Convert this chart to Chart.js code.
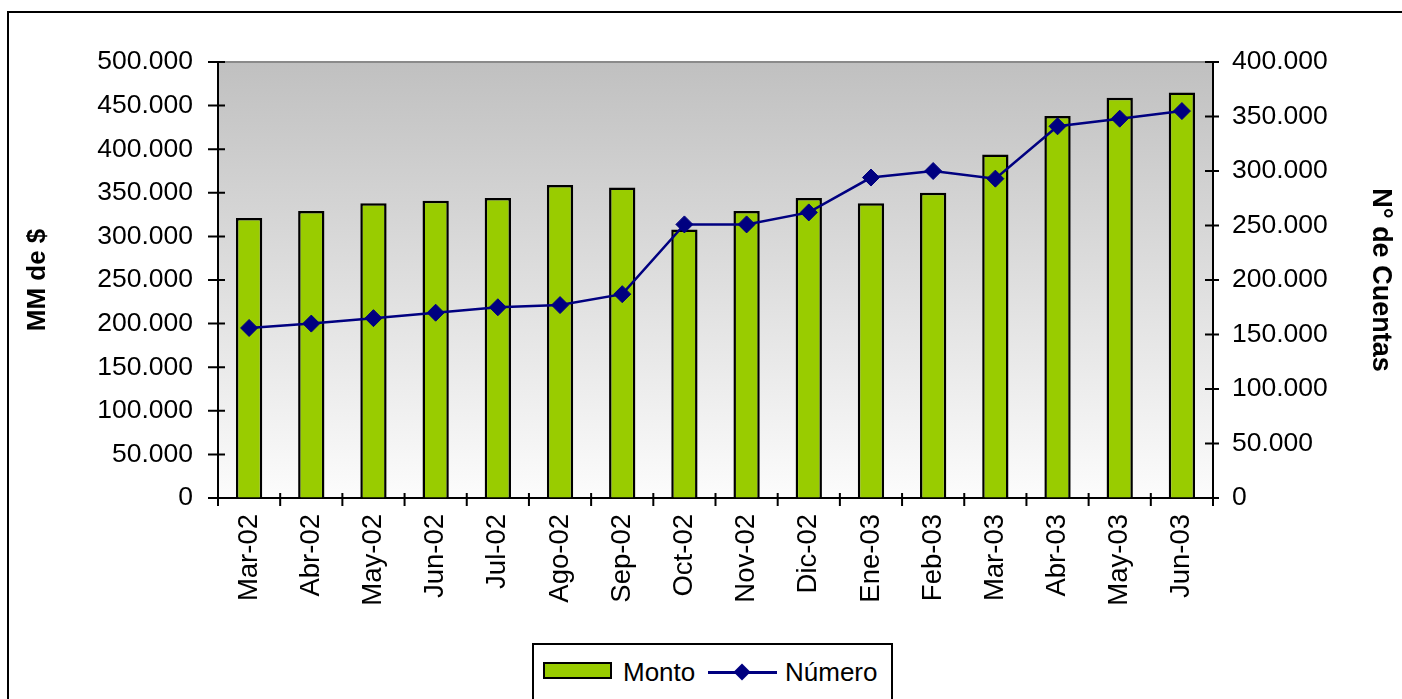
<!DOCTYPE html>
<html><head><meta charset="utf-8">
<script src="https://cdn.jsdelivr.net/npm/chart.js@4"></script>
<style>
html,body{margin:0;padding:0;width:1402px;height:699px;overflow:hidden;background:#fff;font-family:"Liberation Sans",Arial,sans-serif;}
#frame{position:absolute;left:7px;top:11px;width:1500px;height:800px;border:2px solid #000;box-sizing:border-box;}
#c{position:absolute;left:0;top:0;}
#legend{position:absolute;left:532px;top:643px;width:361px;height:100px;border:2px solid #000;box-sizing:border-box;background:#fff;}
#legend .sw{position:absolute;left:9px;top:17px;width:69px;height:17px;background:#99CC00;border:2px solid #000;box-sizing:border-box;}
#legend .txt{position:absolute;top:12px;font-size:26px;line-height:30px;color:#000;white-space:nowrap;}
#legend .ln{position:absolute;left:174px;top:26px;width:69px;height:2.5px;background:#000080;}
#legend .dm{position:absolute;left:202px;top:21px;width:12px;height:12px;background:#000080;transform:rotate(45deg);}
</style>
</head><body>
<div id="frame"></div>
<canvas id="c" width="1402" height="699"></canvas>
<div id="legend">
  <div class="sw"></div><div class="txt" id="l1" style="left:89px"></div>
  <div class="ln"></div><div class="dm"></div><div class="txt" id="l2" style="left:251px"></div>
</div>
<script>
const categories = ['Mar-02','Abr-02','May-02','Jun-02','Jul-02','Ago-02','Sep-02','Oct-02','Nov-02','Dic-02','Ene-03','Feb-03','Mar-03','Abr-03','May-03','Jun-03'];
const monto  = [321000, 329000, 338000, 341000, 344000, 359000, 356000, 308000, 329000, 344000, 338000, 350000, 394000, 438000, 459000, 465000];
const numero = [156000, 160000, 165000, 170000, 175000, 177000, 187000, 251000, 251000, 262000, 294000, 300000, 293000, 341000, 348000, 355000];
const seriesNames = ['Monto', 'Número'];
const axisTitles = ['MM de $', 'N° de Cuentas'];

document.getElementById('l1').textContent = seriesNames[0];
document.getElementById('l2').textContent = seriesNames[1];

const FONT = '"Liberation Sans", Arial, sans-serif';
const fmt = v => String(v).replace(/\B(?=(\d{3})+(?!\d))/g, '.');

const bgPlugin = {
  id: 'bg',
  beforeDraw(chart) {
    const {ctx, chartArea: a} = chart;
    const g = ctx.createLinearGradient(0, a.top, 0, a.bottom);
    g.addColorStop(0, '#C0C0C0');
    g.addColorStop(1, '#FCFCFC');
    ctx.save();
    ctx.fillStyle = g;
    ctx.fillRect(a.left, a.top, a.right - a.left, a.bottom - a.top);
    ctx.strokeStyle = '#8a8a8a';
    ctx.lineWidth = 2;
    ctx.beginPath();
    ctx.moveTo(a.left, a.top);
    ctx.lineTo(a.right, a.top);
    ctx.stroke();
    ctx.restore();
  }
};

const tickPlugin = {
  id: 'tickmarks',
  afterDraw(chart) {
    const {ctx, scales} = chart;
    ctx.save();
    ctx.strokeStyle = '#000';
    ctx.lineWidth = 2;
    ctx.beginPath();
    const y = scales.y, y1 = scales.y1, x = scales.x;
    y.ticks.forEach((t, i) => {
      const py = y.getPixelForTick(i);
      ctx.moveTo(y.right - 10, py); ctx.lineTo(y.right + 7, py);
    });
    y1.ticks.forEach((t, i) => {
      const py = y1.getPixelForTick(i);
      ctx.moveTo(y1.left - 8, py); ctx.lineTo(y1.left + 6, py);
    });
    const half = (x.getPixelForValue(1) - x.getPixelForValue(0)) / 2;
    for (let i = 0; i <= categories.length; i++) {
      const px = x.getPixelForValue(Math.min(i, categories.length - 1)) + (i === categories.length ? half : -half);
      ctx.moveTo(px, x.top - 5); ctx.lineTo(px, x.top + 8);
    }
    ctx.stroke();
    ctx.restore();
  }
};

new Chart(document.getElementById('c'), {
  data: {
    labels: categories,
    datasets: [
      {
        type: 'line', label: seriesNames[1], data: numero, yAxisID: 'y1', order: 0,
        borderColor: '#000080', borderWidth: 2.5, tension: 0,
        pointStyle: 'rectRot', pointRadius: 8.5, pointBackgroundColor: '#000080', pointBorderColor: '#000080', pointBorderWidth: 1
      },
      {
        type: 'bar', label: seriesNames[0], data: monto, yAxisID: 'y', order: 1,
        backgroundColor: '#99CC00', borderColor: '#000', borderWidth: 2.5,
        barPercentage: 0.423, categoryPercentage: 1
      }
    ]
  },
  options: {
    responsive: false,
    animation: false,
    devicePixelRatio: 1,
    layout: { padding: { left: 0, right: 0, top: 62, bottom: 0 } },
    plugins: { legend: { display: false }, tooltip: { enabled: false } },
    scales: {
      x: {
        type: 'category', offset: true,
        grid: { display: true, drawOnChartArea: false, drawTicks: false, tickLength: 0, color: 'rgba(0,0,0,0)' },
        border: { display: true, color: '#000', width: 2 },
        ticks: { minRotation: 90, maxRotation: 90, padding: 16, color: '#000', font: { size: 27.5, family: FONT } },
        afterFit(s) { s.height = 201; }
      },
      y: {
        position: 'left', min: 0, max: 500000,
        grid: { display: true, drawOnChartArea: false, drawTicks: false, tickLength: 0, color: 'rgba(0,0,0,0)' },
        border: { display: true, color: '#000', width: 2 },
        ticks: { stepSize: 50000, padding: 25, color: '#000', font: { size: 26.5, family: FONT }, callback: v => fmt(v) },
        title: { display: true, text: axisTitles[0], color: '#000', font: { size: 26, weight: 'bold', family: FONT }, padding: { top: 22, bottom: 0 } },
        afterFit(s) { s.width = 218; }
      },
      y1: {
        position: 'right', min: 0, max: 400000,
        grid: { display: true, drawOnChartArea: false, drawTicks: false, tickLength: 0, color: 'rgba(0,0,0,0)' },
        border: { display: true, color: '#000', width: 2 },
        ticks: { stepSize: 50000, padding: 19, color: '#000', font: { size: 26.5, family: FONT }, callback: v => fmt(v) },
        title: { display: true, text: axisTitles[1], color: '#000', font: { size: 27, weight: 'bold', family: FONT }, padding: { top: 5, bottom: 0 } },
        afterFit(s) { s.width = 189; }
      }
    }
  },
  plugins: [bgPlugin, tickPlugin]
});
</script>
</body></html>
